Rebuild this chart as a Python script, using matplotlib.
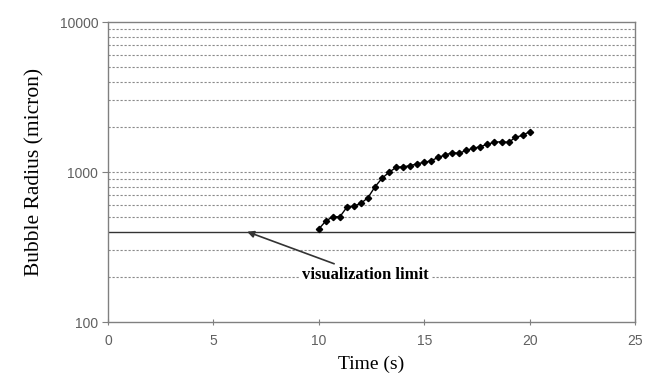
import matplotlib
matplotlib.use("Agg")
import matplotlib.pyplot as plt
import numpy as np

# Data
time_s = [10.0, 10.33, 10.67, 11.0, 11.33, 11.67, 12.0, 12.33, 12.67, 13.0,
          13.33, 13.67, 14.0, 14.33, 14.67, 15.0, 15.33, 15.67, 16.0, 16.33,
          16.67, 17.0, 17.33, 17.67, 18.0, 18.33, 18.67, 19.0, 19.33, 19.67, 20.0]
radius_um = [417, 471, 503, 503, 582, 593, 618, 674, 798, 908,
             995, 1074, 1084, 1101, 1135, 1159, 1189, 1253, 1298, 1345,
             1333, 1396, 1440, 1476, 1531, 1579, 1593, 1575, 1702, 1757, 1858]
vis_limit = 400
grid_levels = [200, 300, 500, 600, 700, 800, 900, 1000,
               2000, 3000, 4000, 5000, 6000, 7000, 8000, 9000]
x_ticks = [0, 5, 10, 15, 20, 25]
y_ticks = [100, 1000, 10000]

fig = plt.figure(figsize=(6.47, 3.84), dpi=100)
ax = fig.add_axes([108/647, 62/384, 527/647, 300/384])

gray = "#808080"
for g in grid_levels:
    ax.axhline(g, color="#8a8a8a", lw=0.8, ls=(0, (2, 1.6)), zorder=1)
ax.axhline(vis_limit, color="#333333", lw=1.0, zorder=2)

ax.plot(time_s, radius_um, color="black", lw=1.0, marker="D", ms=3.2,
        mfc="black", mec="black", zorder=3)

ax.set_yscale("log")
ax.set_xlim(0, 25)
ax.set_ylim(100, 10000)
ax.set_xticks(x_ticks)
ax.set_xticklabels([str(t) for t in x_ticks])
ax.set_yticks(y_ticks)
ax.set_yticklabels([str(t) for t in y_ticks])
ax.yaxis.set_minor_locator(matplotlib.ticker.NullLocator())

for s in ax.spines.values():
    s.set_color(gray)
    s.set_linewidth(1.0)

ax.tick_params(axis="x", direction="inout", length=5, color=gray, labelsize=10,
               labelcolor="#606060", pad=6)
ax.tick_params(axis="y", direction="out", length=4, color=gray, labelsize=10,
               labelcolor="#606060", pad=3)
for lbl in ax.get_xticklabels() + ax.get_yticklabels():
    lbl.set_family("Liberation Sans")

ax.set_xlabel("Time (s)", family="Liberation Serif", fontsize=14, labelpad=6)
ax.set_ylabel("Bubble Radius (micron)", family="Liberation Serif", fontsize=15.5, labelpad=11)

ax.annotate("visualization limit", xy=(6.6, vis_limit), xytext=(9.2, 205),
            textcoords="data", ha="left", va="center",
            family="Liberation Serif", fontweight="bold", fontsize=12,
            bbox=dict(boxstyle="square,pad=0.15", fc="white", ec="none"),
            arrowprops=dict(arrowstyle="-|>", color="#333333", lw=1.2,
                            mutation_scale=10, shrinkA=2, shrinkB=0),
            zorder=4)

fig.savefig("out.png", dpi=100)
